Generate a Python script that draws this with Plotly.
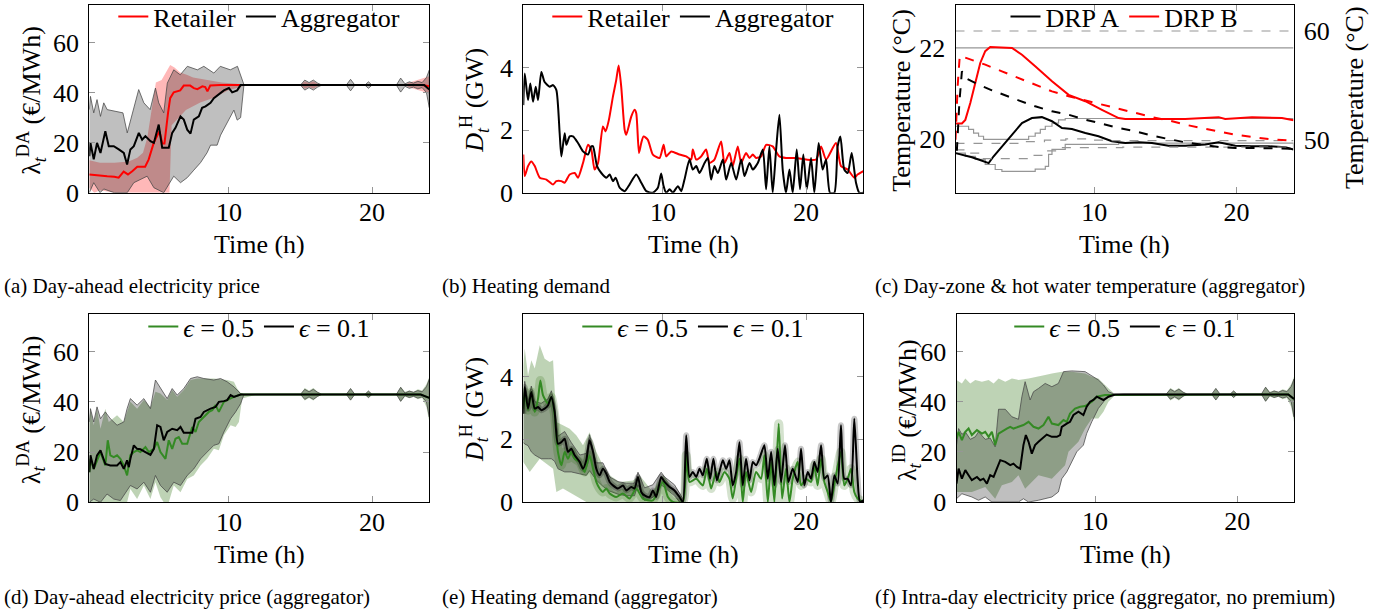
import plotly.graph_objects as go

W, H = 1396, 614
FONT = "Liberation Serif"

# ---------------- (a) Day-ahead price: retailer vs aggregator ----------------
A_RET_T = [0.25, 0.8, 1.5, 2.0, 2.3, 2.65, 2.95, 3.25, 3.6, 4.15, 4.4, 4.75, 5.0, 5.15, 5.35, 5.5, 5.75, 5.9, 6.15, 6.6,
           6.85, 7.3, 7.55, 7.8, 8.15, 8.35, 8.5, 8.7, 9.4, 23.5, 24.0]
A_RET_V = [7.3, 6.9, 6.6, 6.4, 6.0, 8.4, 7.3, 8.6, 10.4, 10.4, 13.3, 19.9, 23.2, 24.6, 19.7, 19.7, 31.9, 37.8, 40.1, 40.9,
           42.8, 42.8, 41.8, 41.4, 42.5, 42.2, 40.5, 42.8, 43.0, 43.0, 42.5]
A_AGG_T = [0.25, 0.33, 0.56, 0.79, 1.03, 1.26, 1.37, 1.61, 1.96, 2.31, 2.66, 2.89, 3.12, 3.36, 3.71, 3.94, 4.17, 4.52, 4.76, 5.10,
           5.34, 5.80, 6.04, 6.27, 6.62, 6.85, 7.09, 7.32, 7.55, 7.90, 8.13, 8.37, 8.72, 8.95, 9.30, 9.65, 10.0, 10.23, 10.58, 10.82,
           23.64, 24.0]
A_AGG_V = [14.6, 19.9, 13.3, 19.9, 15.9, 21.2, 24.6, 18.6, 18.6, 17.3, 15.9, 11.3, 17.3, 18.6, 23.9, 21.2, 22.6, 20.6, 19.9, 27.2,
           18.0, 18.0, 23.9, 25.9, 30.5, 29.2, 25.2, 23.6, 29.2, 30.5, 33.9, 34.5, 35.9, 37.8, 39.2, 40.9, 41.8, 40.1, 40.9, 43.0,
           43.0, 41.2]
A_AGG_UP_T = [0.25, 0.33, 0.56, 0.79, 1.03, 1.26, 1.5, 2.0, 2.6, 2.9, 3.36, 3.7, 4.06, 4.5, 4.87, 5.1, 5.45, 5.7, 6.15, 6.6,
              7.1, 7.8, 8.25, 8.95, 9.4, 10.1, 10.6, 10.82, 11.05]
A_AGG_UP_V = [33.2, 38.5, 31.9, 37.2, 30.5, 35.9, 33.2, 32.5, 31.9, 23.9, 34.5, 41.2, 35.9, 33.2, 41.8, 35.9, 31.9, 43.8, 49.1, 47.1,
              50.5, 49.1, 50.5, 47.8, 50.5, 49.1, 50.5, 47.1, 43.2]
A_AGG_LO_T = [0.25, 0.56, 1.0, 1.26, 2.0, 2.9, 3.36, 4.29, 4.76, 5.45, 6.15, 6.62, 7.09, 7.55, 8.02, 8.48, 8.72, 9.18, 9.42, 9.88,
              10.35, 10.58, 10.82, 11.05]
A_AGG_LO_V = [0, 4, 0, 1.5, 0, 0, 4, 6.6, 2, 0, 6.6, 4, 6, 9, 12, 16, 19, 19, 23, 28, 33, 29, 30, 43]
A_RET_UP_T = [0.25, 1.0, 2.0, 3.0, 3.6, 4.0, 4.3, 4.6, 4.9, 5.3, 5.6, 5.9, 6.2, 6.6, 7.1, 7.5, 8.5, 9.5, 10.5, 11.2]
A_RET_UP_V = [13, 12, 12, 12.5, 14, 16, 22, 33, 44, 45, 48, 51, 50, 48, 47, 46, 45, 44, 43.5, 43]
A_RET_LO_T = [0.25, 0.6, 1.0, 2.0, 3.0, 4.0, 5.0, 5.85, 6.0, 6.5, 7.0, 8.0, 9.0, 10.0, 10.7, 11.2]
A_RET_LO_V = [2, 0, 1, 0, 0, 0, 0, 0, 27, 30, 33, 36, 38, 41, 42, 43]

# shared tails of the price envelopes (t >= 12 h)
TAIL_T = [12.0, 15.0, 15.3, 15.6, 15.9, 16.2, 16.5, 18.2, 18.5, 18.8, 19.5, 19.75, 20.0, 21.7, 22.0, 22.3, 22.6, 22.9, 23.2, 23.5,
          23.8, 24.0]
GRAY_TAIL_UP = [43, 43, 45, 44, 45, 43.8, 43, 43, 45.3, 43, 43, 44.3, 43, 43, 45.8, 43.5, 44.3, 43.8, 44.5, 44, 46, 49]
GRAY_TAIL_LO = [43, 43, 41, 42, 41, 42.2, 43, 43, 40.7, 43, 43, 41.7, 43, 43, 40.2, 42.5, 41.7, 42.2, 41.5, 42, 40, 34]
GREEN_TAIL_UP = [43, 43, 45.5, 44.5, 45.5, 44, 43, 43, 45.5, 43, 43, 44.5, 43, 43, 46, 44, 44.5, 44, 45, 44.5, 47, 50]
GREEN_TAIL_LO = [43, 43, 40.5, 41.5, 40.5, 42, 43, 43, 40.5, 43, 43, 41.5, 43, 43, 40, 42, 41.5, 42, 41, 41.5, 38, 32]
RED_TAIL_UP = [43, 43, 44.5, 43.8, 44.5, 43.5, 43, 43, 43, 43, 43, 43, 43, 43, 43, 43, 44, 44.5, 45, 45.5, 46, 46.5]
RED_TAIL_LO = [43, 43, 41.5, 42.2, 41.5, 42.5, 43, 43, 43, 43, 43, 43, 43, 43, 43, 43, 42, 41.5, 41, 40.5, 40, 39.5]

# ---------------- (b) Heating demand ----------------
B_RET_T = [0.25, 0.35, 0.58, 0.81, 1.05, 1.40, 1.86, 2.33, 2.56, 2.91, 3.14, 3.49, 3.84, 4.07, 4.42, 4.77, 5.0, 5.23, 5.47, 5.81,
           6.0, 6.23, 6.51, 6.74, 6.91, 7.09, 7.33, 7.44, 7.79, 8.02, 8.14, 8.33, 8.49, 8.65, 8.95, 9.30, 9.77, 10.05, 10.23, 10.58,
           11.16, 11.63, 11.98, 12.09, 12.33, 12.67, 13.02, 13.26, 13.60, 14.07, 14.30, 14.65, 14.88, 15.23, 15.47, 15.81, 16.05,
           16.28, 16.51, 16.86, 17.21, 17.67, 18.14, 18.60, 19.30, 20.0, 20.70, 21.05, 21.40, 22.09, 22.44, 22.91, 23.37, 23.60, 24.0]
B_RET_V = [1.22, 0.53, 0.85, 1.0, 0.85, 0.48, 0.42, 0.26, 0.37, 0.37, 0.32, 0.58, 0.63, 0.48, 0.95, 1.53, 1.38, 0.74, 0.95, 2.12,
           1.96, 2.33, 3.07, 3.6, 4.07, 3.39, 2.01, 1.85, 2.43, 2.65, 2.54, 1.27, 1.59, 1.8, 1.69, 1.22, 1.11, 1.53, 1.16, 1.32,
           1.22, 1.16, 1.06, 1.38, 1.06, 1.16, 1.38, 0.95, 1.06, 1.64, 0.95, 1.27, 0.85, 1.48, 0.95, 1.27, 1.11,
           1.22, 1.11, 1.16, 1.53, 1.48, 1.16, 1.11, 1.11, 1.06, 1.06, 1.48, 1.06, 1.59, 0.85, 0.74, 0.48, 0.58, 0.69]
B_AGG_T = [0.25, 0.35, 0.58, 0.74, 0.93, 1.12, 1.28, 1.51, 1.74, 2.09, 2.33, 2.56, 2.79, 2.91, 3.14, 3.26, 3.49, 3.72, 4.07, 4.42,
           4.77, 5.0, 5.12, 5.40, 5.70, 6.05, 6.28, 6.51, 6.70, 6.98, 7.33, 7.67, 8.14, 8.49, 8.84, 9.30, 9.65, 9.88, 10.05, 10.23,
           10.47, 10.70, 11.05, 11.28, 11.51, 11.86, 12.09, 12.33, 12.56, 12.91, 13.14, 13.37, 13.60, 13.84, 14.19, 14.42, 14.77,
           15.12, 15.47, 15.70, 16.05, 16.28, 16.63, 16.98, 17.21, 17.44, 17.67, 17.91, 18.14, 18.37, 18.60, 18.84, 19.07, 19.35,
           19.58, 19.81, 20.05, 20.35, 20.58, 20.88, 21.16, 21.40, 21.67, 21.98, 22.21, 22.40, 22.67, 22.91, 23.19, 23.49, 23.72, 24.0]
B_AGG_V = [2.80, 3.81, 2.96, 3.49, 2.91, 3.39, 2.96, 3.86, 3.54, 3.39, 3.44, 3.28, 1.90, 1.16, 1.90, 1.53, 1.80, 1.80, 1.59, 1.32,
           1.22, 1.48, 1.48, 0.85, 0.63, 0.48, 0.58, 0.37, 0.48, 0.16, 0.05, 0.26, 0.58, 0.32, 0.05, 0, 0.16, 0.61, 0.21, 0,
           0.11, 0, 0.21, 0.05, 0.42, 1.06, 0.74, 0.85, 0.63, 0.95, 1.11, 0.42, 0.85, 0.63, 1.06, 0.42, 0.95,
           0.42, 1.06, 0.53, 0.95, 0.74, 0.95, 1.38, 0.11, 1.48, 0, 1.38, 2.49, 0.74, 0, 0.74, 0, 1.38,
           0.11, 1.22, 0.11, 1.11, 0, 1.59, 0.74, 1.06, 0, 0, 1.48, 1.80, 0.74, 0.63, 1.27, 0.32, 0, 0]

# ---------------- (c) Day-zone & hot-water temperature ----------------
C_A_DAY_T = [0.25, 0.70, 1.40, 1.87, 2.34, 2.58, 2.93, 3.51, 4.22, 4.92, 5.62, 6.32, 7.03, 7.73, 8.43, 9.37, 10.30, 11.24, 12.18,
             13.11, 14.05, 15.22, 16.39, 17.80, 18.74, 19.91, 21.08, 22.25, 23.42, 24.0]
C_A_DAY_V = [19.69, 19.66, 19.60, 19.55, 19.49, 19.47, 19.62, 19.84, 20.10, 20.35, 20.46, 20.48, 20.39, 20.24, 20.22, 20.13, 20.06,
             19.95, 19.91, 19.93, 19.91, 19.85, 19.85, 19.88, 19.93, 19.85, 19.84, 19.84, 19.82, 19.77]
C_B_DAY_T = [0.25, 0.70, 0.94, 1.29, 1.64, 1.99, 2.34, 2.69, 4.22, 4.92, 5.85, 7.03, 8.20, 9.37, 10.54, 11.71, 12.18, 14.05, 16.39,
             18.74, 19.2, 21.08, 22.25, 23.19, 24.0]
C_B_DAY_V = [20.34, 20.34, 20.42, 20.79, 21.23, 21.67, 21.93, 22.02, 22.0, 21.85, 21.60, 21.27, 20.97, 20.83, 20.64, 20.46, 20.44,
             20.44, 20.44, 20.48, 20.44, 20.48, 20.46, 20.46, 20.41]
C_A_HW_T = [0.25, 0.35, 0.52, 0.70, 0.94, 1.87, 2.81, 3.75, 4.68, 5.85, 7.03, 8.20, 9.37, 10.54, 11.71, 12.88, 14.05, 15.22, 16.39,
            17.56, 18.74, 19.91, 21.08, 24.0]
C_A_HW_V = [49.11, 49.11, 53.39, 56.30, 55.69, 55.08, 54.56, 54.07, 53.64, 53.09, 52.63, 52.32, 51.87, 51.50, 51.10, 50.80, 50.40,
            50.09, 49.79, 49.57, 49.36, 49.27, 49.27, 49.2]
C_B_HW_T = [0.25, 0.40, 0.55, 1.40, 2.34, 3.51, 4.68, 5.85, 7.03, 8.20, 9.37, 10.54, 11.71, 12.88, 14.05, 15.22, 16.39, 17.56, 18.74,
            19.91, 21.08, 22.25, 24.0]
C_B_HW_V = [50.03, 54.92, 57.74, 57.37, 56.91, 56.30, 55.69, 55.08, 54.46, 54.01, 53.64, 53.24, 52.84, 52.48, 52.11, 51.80, 51.41,
            51.10, 50.80, 50.49, 50.28, 50.09, 49.94]
C_BOUND_T = [0.25, 24.0]
C_DAY_UB = [22.0, 22.0]
C_HW_UB = [60.0, 60.0]
C_LB_B_T = [0.25, 1.17, 1.52, 1.87, 2.22, 5.39, 5.85, 6.21, 6.56, 7.03, 7.49, 7.96, 24.0]
C_LB_B_V = [20.28, 20.21, 20.13, 20.06, 19.99, 20.06, 20.13, 20.21, 20.28, 20.35, 20.42, 20.45, 20.45]
C_LB_A_T = [0.25, 0.94, 1.64, 2.34, 3.04, 3.51, 5.85, 6.56, 6.79, 7.03, 7.96, 11.71, 24.0]
C_LB_A_V = [19.69, 19.62, 19.55, 19.44, 19.33, 19.29, 19.34, 19.40, 19.66, 19.77, 19.88, 19.91, 19.80]
C_HB_B_T = [0.25, 3.5, 5.0, 6.5, 8.0, 9.5, 11.0, 24.0]
C_HB_B_V = [49.7, 49.7, 49.85, 50.0, 50.1, 50.0, 49.95, 49.95]
C_HB_A_T = [0.25, 1.0, 2.0, 4.5, 5.5, 6.5, 7.5, 12.0, 24.0]
C_HB_A_V = [49.1, 48.8, 48.3, 48.3, 48.6, 49.0, 49.3, 49.35, 49.3]

# ---------------- (d) Day-ahead price (aggregator), eps = 0.5 / 0.1 ----------------
D_E01_T = [0.25, 0.33, 0.56, 0.79, 1.03, 1.26, 1.37, 1.72, 2.19, 2.42, 2.66, 2.89, 3.01, 3.12, 3.36, 3.59, 3.82, 4.17, 4.52, 4.76,
           4.99, 5.22, 5.45, 5.69, 6.04, 6.39, 6.62, 6.85, 7.44, 7.67, 8.02, 8.25, 8.48, 8.72, 9.07, 9.30, 9.65, 9.88, 10.12, 10.35,
           10.82, 23.4, 24.0]
D_E01_V = [12, 18.7, 13.3, 18.7, 20.7, 17.3, 15.3, 14.7, 14.7, 16, 13.3, 16.7, 14, 17.3, 22.7, 21.3, 21.1, 20, 18.9, 21.3,
           30.7, 30, 24.7, 28, 29.3, 28.7, 30, 27.7, 27.7, 33.3, 34, 36, 36.7, 37.3, 38, 40, 40.3, 40.7, 42.7, 42,
           42.9, 42.9, 41.6]
D_E05_T = [0.25, 0.33, 0.56, 1.03, 1.37, 1.54, 1.72, 1.96, 2.19, 2.42, 2.66, 2.89, 3.12, 3.36, 3.59, 3.82, 4.17, 4.41, 4.76, 4.99,
           5.22, 5.57, 5.80, 6.04, 6.27, 6.50, 6.74, 7.09, 7.44, 7.67, 7.90, 8.13, 8.37, 8.60, 8.84, 9.07, 9.30, 9.65, 9.88, 10.35,
           10.82, 23.4, 24.0]
D_E05_V = [12, 17.3, 13.3, 20, 14.7, 24.7, 18.7, 18, 18.7, 17.3, 14.7, 10.7, 18.7, 20, 20.7, 20, 22, 20, 21.3, 24,
           20, 17.3, 24.7, 21.3, 25.3, 26, 23.3, 23.3, 30, 28, 32, 33.3, 34.7, 36, 36.7, 38.7, 36, 40, 40.7, 42,
           42.9, 42.9, 41.6]
D_E01_UP_T = [0.25, 0.33, 0.56, 0.79, 1.03, 1.37, 1.72, 2.19, 2.66, 2.89, 3.12, 3.59, 4.06, 4.52, 4.87, 5.22, 5.69, 6.04, 6.39, 6.85,
              7.32, 7.79, 8.25, 8.95, 9.42, 9.88, 10.35, 10.82, 11.05]
D_E01_UP_V = [32, 37.3, 32, 38, 33.3, 36, 33.3, 30.7, 32, 37.3, 41.3, 38.7, 41.3, 37.3, 48.7, 45.3, 41.3, 45.3, 42.7, 45.3,
              49.3, 50, 49.3, 48.7, 49.3, 48, 46, 43.3, 42.9]
D_E01_LO_T = [0.25, 0.56, 1.03, 1.49, 1.96, 2.42, 3.12, 3.59, 4.06, 4.52, 4.87, 5.22, 5.69, 6.15, 6.62, 7.09, 7.55, 8.02, 8.48, 8.95,
              9.30, 9.65, 10.12, 10.47, 10.82, 11.05]
D_E01_LO_V = [0, 1.3, 0, 3.3, 1.3, 0.7, 6.7, 5.3, 8, 4, 10.7, 6.7, 4, 8, 6.7, 10.7, 13.3, 17.3, 20, 22.7,
              23.3, 28, 33.3, 36, 39.3, 42.9]
D_E05_UP_T = [0.25, 0.33, 0.56, 0.79, 1.03, 1.37, 1.61, 2.19, 2.66, 3.12, 3.59, 4.06, 4.52, 4.87, 5.22, 5.69, 6.04, 6.39, 6.85, 7.32,
              7.79, 8.25, 8.95, 9.88, 10.35, 10.58, 10.93]
D_E05_UP_V = [33.3, 37.3, 30.7, 37.3, 29.3, 37.3, 32, 34.7, 32, 40, 37.3, 40.7, 38, 44, 43.3, 40.7, 44.7, 42, 44.7, 48.7,
              49.3, 49.3, 49.3, 48.7, 48, 45.3, 42.7]
D_E05_LO_T = [0.25, 2.42, 2.89, 3.12, 3.59, 4.06, 4.52, 4.87, 5.22, 5.45, 5.80, 6.15, 6.62, 7.09, 7.55, 8.02, 8.48, 8.95, 9.30, 9.65,
              10.12, 10.47, 10.70, 10.93]
D_E05_LO_V = [0, 0, 0, 5.3, 1.3, 6.7, 1.3, 8, 2, 0, 0, 6.7, 4, 9.3, 10.7, 14.7, 17.3, 21.3, 20.7, 26.7,
              30.7, 30, 32, 41.3]

# ---------------- (e) Heating demand (aggregator) ----------------
E_E01_T = [0.25, 0.35, 0.58, 0.81, 1.05, 1.28, 1.51, 1.74, 1.98, 2.21, 2.44, 2.67, 2.91, 3.14, 3.37, 3.60, 3.84, 4.19, 4.42, 4.65,
           4.88, 5.12, 5.35, 5.58, 5.81, 6.05, 6.28, 6.51, 6.86, 7.21, 7.44, 7.79, 8.02, 8.26, 8.49, 8.72, 9.07, 9.30, 9.53, 9.88,
           10.12, 10.47, 10.81, 11.16, 11.40, 11.63, 11.86, 12.09, 12.33, 12.56, 12.79, 13.07, 13.30, 13.53, 13.77, 13.95, 14.19,
           14.42, 14.65, 14.88, 15.12, 15.35, 15.58, 15.81, 16.05, 16.28, 16.51, 16.74, 17.09, 17.33, 17.56, 17.79, 18.02, 18.26,
           18.53, 18.77, 19.07, 19.42, 19.65, 19.88, 20.12, 20.35, 20.58, 20.81, 21.05, 21.28, 21.51, 21.74, 21.98, 22.21, 22.44,
           22.67, 22.91, 23.14, 23.37, 23.60, 23.77, 24.0]
E_E01_V = [2.82, 3.67, 2.98, 3.51, 2.98, 3.03, 2.93, 2.98, 3.09, 3.35, 2.87, 1.86, 1.91, 2.02, 1.60, 1.70, 1.49, 1.28, 1.06, 1.33,
           1.97, 1.60, 1.06, 0.85, 1.06, 0.90, 0.64, 0.53, 0.43, 0.53, 0.37, 0.48, 0.43, 0.80, 0.32, 0.21, 0.16, 0.37, 0.16, 0.80,
           0.64, 0.48, 0.37, 0.16, 0, 2.13, 0.80, 0.96, 0.80, 1.06, 0.85, 1.38, 0.74, 1.38, 0.69, 0.96, 1.33,
           1.06, 1.33, 0.53, 0.96, 1.91, 0.53, 1.38, 0.69, 1.28, 1.17, 1.38, 1.81, 0.74, 1.60, 0.53, 1.70, 0.64,
           1.81, 0.64, 1.06, 0.64, 1.70, 0.53, 0.96, 0.74, 1.28, 0.96, 1.81, 0.74, 0.85, 0, 0.85, 0.59, 2.45,
           0.74, 0.74, 0.53, 2.66, 0.74, 0, 0.05]
E_E05_T = [0.25, 0.35, 0.58, 0.81, 1.05, 1.28, 1.44, 1.63, 1.98, 2.21, 2.44, 2.67, 2.91, 3.14, 3.37, 3.60, 3.84, 4.19, 4.53, 4.88,
           5.12, 5.35, 5.58, 5.81, 6.05, 6.28, 6.74, 7.21, 7.67, 8.14, 8.60, 9.30, 10.0, 10.35, 10.70, 11.40, 11.63, 11.86, 12.33,
           12.79, 13.07, 13.37, 13.72, 13.95, 14.30, 14.65, 14.88, 15.35, 15.58, 15.81, 16.16, 16.51, 16.86, 17.09, 17.33, 17.56,
           17.79, 18.09, 18.33, 18.60, 18.84, 19.07, 19.42, 19.65, 20.0, 20.35, 20.58, 20.81, 21.05, 21.28, 21.51, 21.74, 22.09,
           22.44, 22.67, 22.91, 23.14, 23.37, 23.60, 24.0]
E_E05_V = [2.98, 3.51, 2.93, 3.51, 2.87, 3.30, 3.88, 3.40, 3.14, 3.35, 2.77, 1.60, 1.17, 1.60, 1.38, 1.60, 1.38, 1.28, 0.96, 1.49,
           1.06, 0.64, 0.43, 0.32, 0.43, 0.27, 0.16, 0.27, 0.11, 0.43, 0.11, 0.05, 0.64, 0.16, 0, 0, 1.49, 0.64, 0.74,
           0.53, 1.06, 0.43, 0.96, 0.64, 0.96, 0.74, 0.11, 1.38, 0, 0.96, 0.32, 0.96, 0.74, 1.49, 0, 1.28,
           0, 2.50, 0.11, 1.06, 0, 0.74, 1.28, 0.53, 0.74, 0.64, 1.17, 0.53, 1.38, 0.64, 0.32, 0, 0.85,
           1.60, 0.53, 0.74, 1.06, 0.32, 0.11, 0]
E_E01_UP_T = [0.25, 0.35, 0.58, 0.81, 1.05, 1.5, 2.0, 2.21, 2.44, 2.67, 3.14, 3.6, 4.2, 4.65, 4.88, 5.35, 5.81, 6.28, 6.86, 7.44,
              8.02, 8.26, 8.72, 9.3, 9.88, 10.12, 10.81, 11.16, 11.40]
E_E01_UP_V = [3.05, 3.85, 3.2, 3.7, 3.2, 3.15, 3.3, 3.55, 3.1, 2.1, 2.25, 1.9, 1.5, 1.55, 2.15, 1.25, 1.25, 0.8, 0.65, 0.6,
              0.6, 0.95, 0.45, 0.55, 0.95, 0.8, 0.55, 0.3, 0.1]
E_E01_LO_V = [1.9, 1.85, 1.8, 1.6, 1.5, 1.38, 1.38, 1.38, 1.3, 1.06, 0.96, 0.96, 0.9, 0.85, 1.0, 0.7, 0.5, 0.35, 0.25, 0.2,
              0.2, 0.55, 0.05, 0.15, 0.55, 0.45, 0.2, 0.0, 0.0]
E_E05_UP_T = [0.25, 0.35, 0.58, 0.81, 1.05, 1.40, 1.74, 2.09, 2.33, 2.56, 3.02, 3.49, 3.95, 4.42, 4.88, 5.35, 5.81, 6.28, 6.98, 7.91,
              8.37, 9.30, 10.0, 10.70, 11.40]
E_E05_UP_V = [4.36, 4.9, 4.04, 4.52, 4.26, 5.0, 4.57, 4.47, 4.52, 2.55, 2.45, 2.34, 2.13, 1.81, 2.23, 1.6, 1.17, 0.85, 0.64, 0.69,
              0.85, 0.32, 0.85, 0.43, 0.1]
E_E05_LO_T = [0.25, 0.70, 1.40, 2.33, 2.56, 3.02, 3.49, 4.65, 11.40]
E_E05_LO_V = [1.28, 0.96, 1.38, 1.06, 0.32, 0.43, 0.32, 0.0, 0.0]

# ---------------- (f) Intra-day price (aggregator, no premium) ----------------
F_E01_T = [0.25, 0.40, 0.63, 0.87, 1.10, 1.33, 1.69, 1.92, 2.15, 2.39, 2.62, 2.86, 3.09, 3.33, 3.68, 4.03, 4.26, 4.50, 4.73,
           4.96, 5.13, 5.32, 5.55, 5.78, 6.02, 6.25, 6.60, 6.96, 7.31, 7.54, 7.66, 8.01, 8.24, 8.48, 8.83, 9.18, 9.41, 9.65, 9.88,
           10.12, 10.35, 10.59, 10.94, 11.41, 23.6, 24.0]
F_E01_V = [7.3, 13.3, 9.3, 12.7, 10.7, 8.7, 10, 8.7, 9.3, 7.3, 10.7, 10, 13.3, 16.7, 16, 14.7, 15.3, 14, 13.3,
           22.7, 26.7, 24, 19.3, 22.7, 24, 25.3, 26.9, 26, 26, 26.7, 30, 31.3, 32, 34.7, 36, 34.7, 38, 40, 40.7,
           42, 41.3, 40.7, 42, 42.9, 42.9, 41.1]
F_E05_T = [0.25, 0.40, 0.63, 0.87, 1.10, 1.33, 1.69, 2.04, 2.27, 2.51, 2.74, 2.97, 3.21, 3.56, 3.79, 4.03, 4.26, 4.61, 4.96, 5.32,
           5.67, 6.02, 6.37, 6.72, 6.96, 7.42, 7.78, 8.01, 8.24, 8.59, 8.95, 9.30, 9.77, 10.12, 10.70, 23.6, 24.0]
F_E05_V = [25.3, 28, 24.7, 28, 29.3, 26.7, 28.7, 27.3, 28, 26, 28, 22.7, 27.3, 28.7, 29.3, 30, 29.3, 30, 30.7, 32,
           30, 29.3, 30.7, 34, 31.3, 30.7, 32.7, 32, 35.3, 37.3, 38, 38.3, 40, 42, 42.7, 42.9, 41.1]
F_E01_UP_T = [0.25, 0.40, 0.63, 0.87, 1.22, 1.57, 1.80, 2.27, 2.62, 2.97, 3.21, 3.68, 4.15, 4.61, 4.85, 5.08, 5.43, 5.67, 6.02,
              6.49, 6.96, 7.42, 7.78, 8.36, 9.30, 9.88, 10.23, 10.59, 10.94, 11.41]
F_E01_UP_V = [22.7, 29.3, 27, 28, 25, 26, 28, 25, 25.5, 22, 37, 37, 34, 33, 42, 48, 40.7, 44, 45.3,
              47.3, 46, 47.3, 52, 52.3, 52, 50, 48.7, 46.7, 44, 42.9]
F_E01_LO_T = [0.25, 0.63, 1.33, 1.80, 2.27, 2.74, 4.61, 4.96, 5.32, 6.02, 6.49, 6.96, 7.42, 7.66, 8.01, 8.36, 8.71, 9.18, 9.41,
              9.77, 10.23, 10.70, 11.17]
F_E01_LO_V = [1.3, 3.3, 2, 0.7, 2, 0, 0, 1.3, 0, 0.7, 1.3, 2, 4, 9.3, 12, 16, 20, 22.7, 27.3,
              32, 37.3, 40.7, 42.7]
F_E05_UP_T = [0.25, 0.63, 0.87, 1.22, 1.57, 2.04, 2.51, 2.86, 3.21, 3.68, 4.15, 4.61, 5.32, 6.02, 6.49, 6.96, 7.66, 8.36, 9.30,
              9.77, 10.23, 10.70, 11.05, 11.41]
F_E05_UP_V = [48.7, 47.3, 49.3, 47.3, 48.7, 48, 48.7, 47.3, 49.3, 48, 49.3, 48.7, 49.3, 50, 50.7, 51.3, 52, 52, 51.3,
              50, 49.3, 46.7, 44.7, 42.9]
F_E05_LO_T = [0.25, 1.33, 2.27, 2.97, 3.44, 4.15, 4.61, 5.08, 5.55, 6.02, 6.96, 7.42, 7.89, 8.13, 8.83, 9.30, 9.77, 10.23,
              10.59, 10.94, 11.41]
F_E05_LO_V = [4, 4, 6, 1.3, 6.7, 8, 10.7, 5.3, 8, 10.7, 9.3, 12, 14.7, 20, 24, 29.3, 33.3, 33.3, 36, 40, 42.7]

# ---------------- text ----------------
X_TICKS = [10, 20]
PRICE_TICKS = [0, 20, 40, 60]
DEMAND_TICKS = [0, 2, 4]
DAY_TICKS = [20, 22]
HW_TICKS = [50, 60]
CAPTIONS = ["(a) Day-ahead electricity price", "(b) Heating demand",
            "(c) Day-zone & hot water temperature (aggregator)",
            "(d) Day-ahead electricity price (aggregator)", "(e) Heating demand (aggregator)",
            "(f) Intra-day electricity price (aggregator, no premium)"]
X_TITLE = "Time (h)"
Y_TITLES = ["λ<sub><i>t</i></sub><sup>DA</sup> (€/MWh)", "<i>D</i><sub><i>t</i></sub><sup>H</sup> (GW)",
            "Temperature (°C)", "λ<sub><i>t</i></sub><sup>DA</sup> (€/MWh)",
            "<i>D</i><sub><i>t</i></sub><sup>H</sup> (GW)", "λ<sub><i>t</i></sub><sup>ID</sup> (€/MWh)"]
RIGHT_TITLE = "Temperature (°C)"
LEG_TOP = ["Retailer", "Aggregator"]
LEG_C = ["DRP A", "DRP B"]
LEG_EPS = ["<i>ϵ</i> = 0.5", "<i>ϵ</i> = 0.1"]

# ---------------- styles ----------------
RED = "rgb(255,0,0)"
BLACK = "black"
GREEN = "rgb(52,138,36)"
GRAY_FILL = "rgba(0,0,0,0.25)"
GRAY_EDGE = "rgba(70,70,70,0.75)"
GREEN_FILL = "rgba(40,110,10,0.30)"
RED_FILL = "rgba(255,0,0,0.28)"
BOUND = "rgb(150,150,150)"

# panel rectangles in pixels (left, right, top, bottom)
RECTS = [(89.3, 429.3, 5.0, 192.7), (523.3, 863.3, 5.0, 192.7), (955.5, 1293.5, 4.7, 192.7),
         (89.3, 429.3, 314.0, 502.3), (523.3, 863.3, 314.0, 502.0), (956.5, 1294.0, 314.0, 502.0)]


def px(x):
    return x / W


def py(y):
    return 1 - y / H


fig = go.Figure()
AX = [("x", "y"), ("x2", "y2"), ("x3", "y3"), ("x4", "y4"), ("x5", "y5"), ("x6", "y6")]


def band(k, t_up, v_up, t_lo, v_lo, fill, edge=None, yaxis=None):
    xa, ya = AX[k]
    fig.add_trace(go.Scatter(
        x=list(t_up) + list(reversed(t_lo)), y=list(v_up) + list(reversed(v_lo)),
        fill="toself", fillcolor=fill, mode="lines",
        line=dict(color=edge if edge else "rgba(0,0,0,0)", width=1 if edge else 0),
        hoverinfo="skip", showlegend=False, xaxis=xa, yaxis=yaxis or ya))


def line(k, t, v, color, width=2.0, dash=None, name=None, legend=None, shape="linear", yaxis=None, smoothing=None):
    xa, ya = AX[k]
    ld = dict(color=color, width=width, shape=shape)
    if dash:
        ld["dash"] = dash
    if smoothing is not None:
        ld["smoothing"] = smoothing
    fig.add_trace(go.Scatter(x=t, y=v, mode="lines", line=ld, name=name or "",
                             showlegend=name is not None, legend=legend, hoverinfo="skip",
                             xaxis=xa, yaxis=yaxis or ya))


# (a)
band(0, A_RET_UP_T + TAIL_T, A_RET_UP_V + RED_TAIL_UP, A_RET_LO_T + TAIL_T, A_RET_LO_V + RED_TAIL_LO, RED_FILL)
band(0, A_AGG_UP_T + TAIL_T, A_AGG_UP_V + GRAY_TAIL_UP, A_AGG_LO_T + TAIL_T, A_AGG_LO_V + GRAY_TAIL_LO, GRAY_FILL, GRAY_EDGE)
line(0, A_RET_T, A_RET_V, RED, name=LEG_TOP[0], legend="legend")
line(0, A_AGG_T, A_AGG_V, BLACK, name=LEG_TOP[1], legend="legend")

# (b)
line(1, B_RET_T, B_RET_V, RED, name=LEG_TOP[0], legend="legend2", shape="spline", smoothing=0.6)
line(1, B_AGG_T, B_AGG_V, BLACK, name=LEG_TOP[1], legend="legend2", shape="spline", smoothing=0.6)

# (c)
line(2, C_BOUND_T, C_DAY_UB, BOUND, width=1.2)
line(2, C_BOUND_T, C_HW_UB, BOUND, width=1.2, dash="dash", yaxis="y7")
line(2, C_LB_B_T, C_LB_B_V, BOUND, width=1.2, shape="hv")
line(2, C_LB_A_T, C_LB_A_V, BOUND, width=1.2, shape="hv")
line(2, C_HB_B_T, C_HB_B_V, BOUND, width=1.2, dash="dash", shape="hv", yaxis="y7")
line(2, C_HB_A_T, C_HB_A_V, BOUND, width=1.2, dash="dash", shape="hv", yaxis="y7")
line(2, C_A_HW_T, C_A_HW_V, BLACK, dash="dash", yaxis="y7")
line(2, C_B_HW_T, C_B_HW_V, RED, dash="dash", yaxis="y7")
line(2, C_A_DAY_T, C_A_DAY_V, BLACK, name=LEG_C[0], legend="legend3")
line(2, C_B_DAY_T, C_B_DAY_V, RED, name=LEG_C[1], legend="legend3")

# (d)
band(3, D_E05_UP_T + TAIL_T, D_E05_UP_V + GREEN_TAIL_UP, D_E05_LO_T + TAIL_T, D_E05_LO_V + GREEN_TAIL_LO, GREEN_FILL)
band(3, D_E01_UP_T + TAIL_T, D_E01_UP_V + GRAY_TAIL_UP, D_E01_LO_T + TAIL_T, D_E01_LO_V + GRAY_TAIL_LO, GRAY_FILL, GRAY_EDGE)
line(3, D_E05_T, D_E05_V, GREEN, name=LEG_EPS[0], legend="legend4")
line(3, D_E01_T, D_E01_V, BLACK, name=LEG_EPS[1], legend="legend4")

# (e)
band(4, E_E05_UP_T, E_E05_UP_V, E_E05_LO_T, E_E05_LO_V, GREEN_FILL)
band(4, E_E01_UP_T, E_E01_UP_V, E_E01_UP_T, E_E01_LO_V, GRAY_FILL, GRAY_EDGE)
line(4, E_E05_T, E_E05_V, "rgba(40,110,10,0.20)", width=9, shape="spline", smoothing=0.6)
line(4, E_E01_T, E_E01_V, "rgba(0,0,0,0.22)", width=6, shape="spline", smoothing=0.6)
line(4, E_E05_T, E_E05_V, GREEN, name=LEG_EPS[0], legend="legend5", shape="spline", smoothing=0.6)
line(4, E_E01_T, E_E01_V, BLACK, name=LEG_EPS[1], legend="legend5", shape="spline", smoothing=0.6)

# (f)
band(5, F_E05_UP_T + TAIL_T, F_E05_UP_V + GREEN_TAIL_UP, F_E05_LO_T + TAIL_T, F_E05_LO_V + GREEN_TAIL_LO, GREEN_FILL)
band(5, F_E01_UP_T + TAIL_T, F_E01_UP_V + GRAY_TAIL_UP, F_E01_LO_T + TAIL_T, F_E01_LO_V + GRAY_TAIL_LO, GRAY_FILL, GRAY_EDGE)
line(5, F_E05_T, F_E05_V, GREEN, name=LEG_EPS[0], legend="legend6")
line(5, F_E01_T, F_E01_V, BLACK, name=LEG_EPS[1], legend="legend6")

# ---------------- axes ----------------
TICKFONT = dict(family=FONT, size=26, color="black")
YRANGES = [[0, 75], [0, 6], [18.82, 22.95], [0, 75], [0, 6], [0, 75]]
YTICKS = [PRICE_TICKS, DEMAND_TICKS, DAY_TICKS, PRICE_TICKS, DEMAND_TICKS, PRICE_TICKS]
layout = {}
for i, (l, r, t, b) in enumerate(RECTS):
    sfx = "" if i == 0 else str(i + 1)
    layout["xaxis" + sfx] = dict(
        domain=[px(l), px(r)], range=[0.25, 24], tickvals=X_TICKS, anchor="y" + sfx,
        showline=True, linecolor="black", linewidth=1, mirror="ticks", ticks="inside", ticklen=6,
        tickcolor=BOUND, showgrid=False, zeroline=False, tickfont=TICKFONT, ticklabelstandoff=-4)
    yd = dict(
        domain=[py(b), py(t)], range=YRANGES[i], tickvals=YTICKS[i], anchor="x" + sfx,
        showline=True, linecolor="black", linewidth=1, mirror="ticks", ticks="inside", ticklen=6,
        tickcolor=BOUND, showgrid=False, zeroline=False, tickfont=TICKFONT, ticklabelstandoff=4)
    if i == 2:
        yd.update(mirror=False, ticks="")
    layout["yaxis" + sfx] = yd
layout["yaxis7"] = dict(overlaying="y3", side="right", anchor="x3", range=[45.17, 62.41], tickvals=HW_TICKS,
                        showline=True, linecolor="black", linewidth=1, ticks="", showgrid=False, zeroline=False,
                        tickfont=TICKFONT, ticklabelstandoff=4)

# legends
LEGFONT = dict(family=FONT, size=26, color="black")
LEG_TOPS = [-7, -7, -7, 303, 303, 303]
for i, (l, r, t, b) in enumerate(RECTS):
    key = "legend" if i == 0 else "legend" + str(i + 1)
    layout[key] = dict(x=px((l + r) / 2), y=py(LEG_TOPS[i]), xanchor="center", yanchor="top", orientation="h",
                       font=LEGFONT, bgcolor="rgba(0,0,0,0)", borderwidth=0, tracegroupgap=0,
                       itemwidth=30)

# annotations: axis titles and captions
ann = []
YT_X = [31, 474, 902, 31, 474, 907]
for i, (l, r, t, b) in enumerate(RECTS):
    ann.append(dict(text=X_TITLE, x=px((l + r) / 2), y=py(b + 52), xref="paper", yref="paper",
                    xanchor="center", yanchor="middle", showarrow=False, font=dict(family=FONT, size=26)))
    ann.append(dict(text=Y_TITLES[i], x=px(YT_X[i]), y=py((t + b) / 2 + 2), xref="paper", yref="paper",
                    xanchor="center", yanchor="middle", textangle=-90, showarrow=False,
                    font=dict(family=FONT, size=26)))
ann.append(dict(text=RIGHT_TITLE, x=px(1355), y=py(98), xref="paper", yref="paper", xanchor="center",
                yanchor="middle", textangle=-90, showarrow=False, font=dict(family=FONT, size=26)))
CAP_X = [2, 440, 873, 2, 440, 873]
CAP_Y = [286, 286, 286, 597, 597, 597]
for i, c in enumerate(CAPTIONS):
    ann.append(dict(text=c, x=px(CAP_X[i]), y=py(CAP_Y[i]), xref="paper", yref="paper", xanchor="left",
                    yanchor="middle", showarrow=False, font=dict(family=FONT, size=21)))

fig.update_layout(width=W, height=H, margin=dict(l=0, r=0, t=0, b=0, autoexpand=False), paper_bgcolor="white",
                  plot_bgcolor="white", annotations=ann, font=dict(family=FONT, color="black"), **layout)
fig.write_html("out.html", config={"displayModeBar": False},
               post_script="document.body.style.margin='0px';document.body.style.overflow='hidden';")
